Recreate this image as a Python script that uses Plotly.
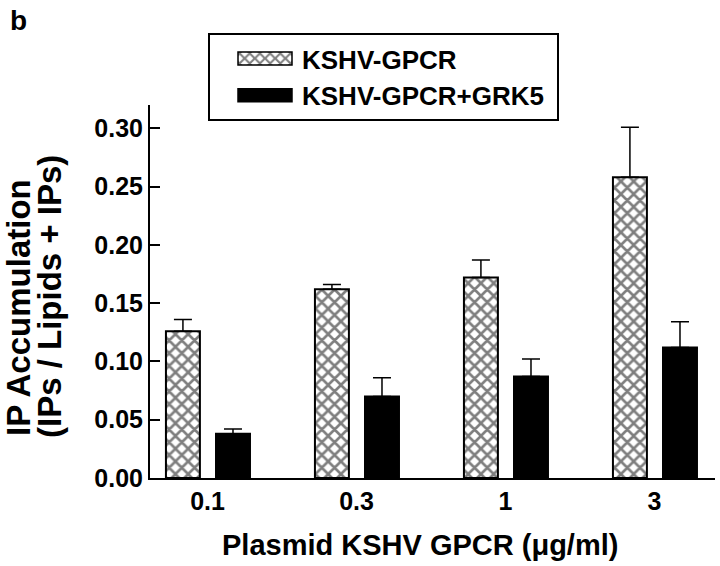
import plotly.graph_objects as go

categories = ["0.1", "0.3", "1", "3"]
kshv_gpcr = [0.126, 0.162, 0.172, 0.258]
kshv_gpcr_err = [0.010, 0.004, 0.015, 0.043]
kshv_grk5 = [0.038, 0.070, 0.087, 0.112]
kshv_grk5_err = [0.004, 0.016, 0.015, 0.022]
y_ticks = [0.00, 0.05, 0.10, 0.15, 0.20, 0.25, 0.30]

FONT = "Liberation Sans, Arial, sans-serif"
L, R, T, B = 150, 5, 105, 88
PW, PH = 720 - L - R, 566 - T - B


def px(xp):
    return (xp - L) / PW


def py(yp):
    return 1 - (yp - T) / PH


fig = go.Figure()
fig.add_trace(go.Bar(
    x=categories, y=kshv_gpcr, name="<b>KSHV-GPCR</b>",
    width=0.228, offset=-0.279,
    marker=dict(color="white", line=dict(color="black", width=2),
                pattern=dict(shape="x", size=9, solidity=0.5, fgcolor="black", bgcolor="white")),
    error_y=dict(type="data", array=kshv_gpcr_err, arrayminus=[0] * 4, symmetric=False,
                 color="black", thickness=1.5, width=9),
))
fig.add_trace(go.Bar(
    x=categories, y=kshv_grk5, name="<b>KSHV-GPCR+GRK5</b>\u00a0",
    width=0.228, offset=0.057,
    marker=dict(color="black", line=dict(color="black", width=2)),
    error_y=dict(type="data", array=kshv_grk5_err, arrayminus=[0] * 4, symmetric=False,
                 color="black", thickness=1.5, width=9),
))

fig.update_layout(
    width=720, height=566,
    margin=dict(l=L, r=R, t=T, b=B),
    paper_bgcolor="white", plot_bgcolor="white",
    barmode="overlay",
    font=dict(family=FONT, color="black"),
    showlegend=True,
    legend=dict(
        x=px(208), y=py(33), xanchor="left", yanchor="top",
        bordercolor="black", borderwidth=2, bgcolor="white",
        font=dict(size=26, family=FONT, color="black"),
        itemwidth=82, tracegroupgap=0,
    ),
    xaxis=dict(
        range=[-0.386, 3.406], showline=True, linecolor="black", linewidth=2,
        ticks="", showgrid=False, zeroline=False,
        tickfont=dict(size=25, family=FONT),
        ticktext=["<b>%s</b>" % c for c in categories], tickvals=categories,
    ),
    yaxis=dict(
        range=[0, 0.32], showline=True, linecolor="black", linewidth=2,
        ticks="inside", ticklen=10, tickwidth=2, tickcolor="black",
        tickvals=y_ticks, ticktext=["<b>%.2f</b>" % v for v in y_ticks],
        showgrid=False, zeroline=False,
        tickfont=dict(size=25, family=FONT),
    ),
    annotations=[
        dict(text="<b>b</b>", x=px(8), y=py(3), xref="paper", yref="paper",
             xanchor="left", yanchor="top", showarrow=False, font=dict(size=28, family=FONT)),
        dict(text="<b>IP Accumulation</b>", x=px(18), y=py(308), xref="paper", yref="paper",
             xanchor="center", yanchor="middle", textangle=-90, showarrow=False,
             font=dict(size=33, family=FONT)),
        dict(text="<b>(IPs / Lipids + IPs)</b>", x=px(49), y=py(297), xref="paper", yref="paper",
             xanchor="center", yanchor="middle", textangle=-90, showarrow=False,
             font=dict(size=33, family=FONT)),
        dict(text="<b>Plasmid KSHV GPCR (μg/ml)</b>", x=px(420), y=py(545), xref="paper", yref="paper",
             xanchor="center", yanchor="middle", showarrow=False, font=dict(size=29, family=FONT)),
    ],
)

post = """
document.body.style.margin = '0';
document.body.style.padding = '0';
var gd = document.getElementsByClassName('plotly-graph-div')[0];
function fixLegend(){
  var paths = gd.querySelectorAll('g.legendpoints path');
  paths.forEach(function(p){
    p.setAttribute('d','M27,6.5H-27V-6.5H27Z');
    p.setAttribute('transform','translate(55,0)');
    p.style.stroke = 'black';
    p.style.strokeWidth = '1.5px';
  });
}
fixLegend();
[0, 50, 200, 600, 1200].forEach(function(t){ setTimeout(fixLegend, t); });
if (gd.on) { gd.on('plotly_afterplot', fixLegend); }
"""
fig.write_html("out.html", post_script=post, config={"displayModeBar": False})
